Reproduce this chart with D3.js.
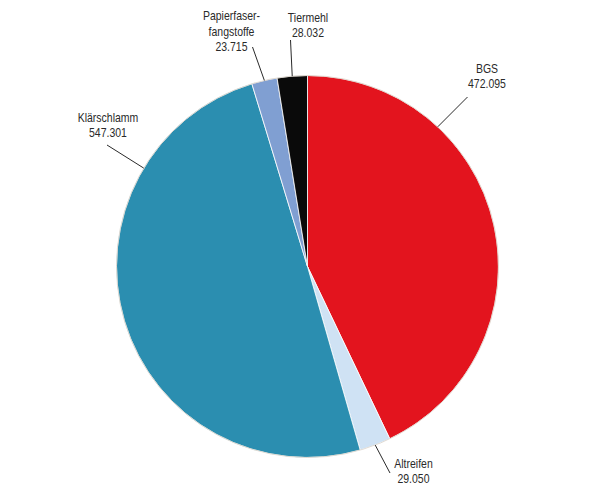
<!DOCTYPE html>
<html>
<head>
<meta charset="utf-8">
<script src="https://cdn.jsdelivr.net/npm/d3@7/dist/d3.min.js"></script>
<style>
  html, body { margin: 0; padding: 0; background: #fff; }
  svg text { font-family: "Liberation Sans", Arial, sans-serif; font-size: 12.5px; fill: #2a2a2a; }
</style>
</head>
<body>
<svg id="chart" width="601" height="489"></svg>
<script>
// Data
const categories = ["BGS", "Altreifen", "Klärschlamm", "Papierfaserfangstoffe", "Tiermehl"];
const values = [472.095, 29.050, 547.301, 23.715, 28.032];
const valueLabels = ["472.095", "29.050", "547.301", "23.715", "28.032"];
const nameLines = [["BGS"], ["Altreifen"], ["Klärschlamm"], ["Papierfaser-", "fangstoffe"], ["Tiermehl"]];
const colors = ["#e3141e", "#cfe2f4", "#2b8eb0", "#809fd2", "#0a0a0a"];

// Layout (label placement)
const labelPos = [
  {x: 487, y: 73, lx: 467.5, ly: 97, angle: 43},
  {x: 413.5, y: 468, lx: 390, ly: 473, angle: null},
  {x: 108, y: 122, lx: 107, ly: 145, angle: 301},
  {x: 231.5, y: 20.5, lx: 252.5, ly: 47, angle: null},
  {x: 308, y: 22, lx: 290.5, ly: 40, angle: null}
];
const condense = 0.84;

const svg = d3.select("#chart");
const cx = 307.5, cy = 266.5, r = 191;
const g = svg.append("g").attr("transform", `translate(${cx},${cy})`);

const data = categories.map((c, i) => ({name: c, value: values[i], i}));
const pie = d3.pie().value(d => d.value).sort(null);
const arcs = pie(data);
const arc = d3.arc().innerRadius(0).outerRadius(r);

g.selectAll("path.slice").data(arcs).enter().append("path")
  .attr("class", "slice")
  .attr("d", arc)
  .attr("fill", d => colors[d.data.i])
  .attr("stroke", "#ffffff")
  .attr("stroke-width", 0.8)
  .attr("stroke-linejoin", "round");

g.append("circle").attr("r", r).attr("fill", "none")
  .attr("stroke", "#d9d2c8").attr("stroke-width", 0.8);

// Leader lines and labels
arcs.forEach(a => {
  const i = a.data.i;
  const p = labelPos[i];
  const ang = p.angle !== null ? p.angle * Math.PI / 180 : (a.startAngle + a.endAngle) / 2;
  const ex = cx + r * Math.sin(ang), ey = cy - r * Math.cos(ang);
  svg.append("line")
    .attr("x1", p.lx).attr("y1", p.ly).attr("x2", ex).attr("y2", ey)
    .attr("stroke", "#2a2a2a").attr("stroke-width", 1);
  const lines = nameLines[i].concat([valueLabels[i]]);
  const t = svg.append("text").attr("text-anchor", "middle")
    .attr("transform", `translate(${p.x},0) scale(${condense},1)`);
  lines.forEach((s, k) => {
    t.append("tspan").attr("x", 0).attr("y", p.y + k * 15.5).text(s);
  });
});
</script>
</body>
</html>
